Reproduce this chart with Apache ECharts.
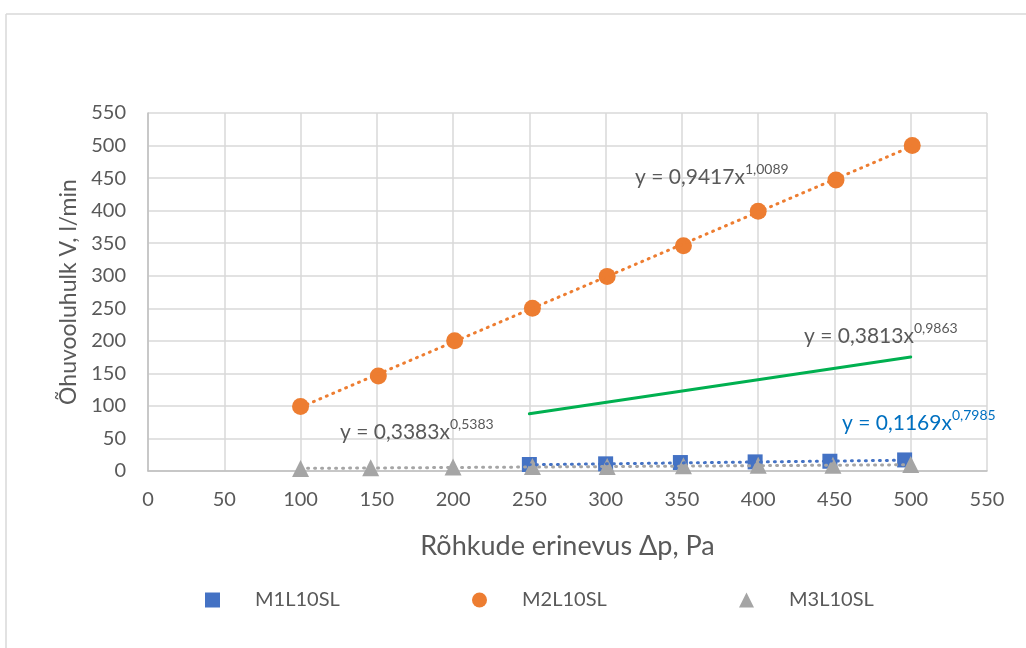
<!DOCTYPE html>
<html>
<head>
<meta charset="utf-8">
<script src="https://cdn.jsdelivr.net/npm/echarts@6/dist/echarts.min.js"></script>
<style>
  html, body { margin: 0; padding: 0; background: #ffffff; }
  #chart { width: 1026px; height: 648px; }
</style>
</head>
<body>
<div id="chart"></div>
<script>
// Measured air flow (l/min) against pressure difference (Pa)
const seriesNames = ['M1L10SL', 'M2L10SL', 'M3L10SL'];

const m1Points = [[250, 10], [300, 11], [349, 13], [398, 14], [447, 15], [496, 17]];
const m2Points = [[100, 99], [151, 146], [201, 200], [252, 250], [301, 299], [351, 346], [400, 399], [451, 447], [501, 500]];
const m3Points = [[100, 4], [146, 5], [200, 6], [252, 7], [301, 7], [351, 8], [400, 9], [449, 9], [500, 10]];

// Power-law trend lines (end points of each fitted curve)
const m1Trend = [[250, 9.6], [496, 16.6]];
const m2Trend = [[100, 98], [501, 499]];
const m3Trend = [[100, 4.0], [500, 9.6]];
const extraTrend = [[250, 88], [500, 175]];

// Trend equations: coefficient and exponent
const m1Eq = ['0,1169', '0,7985'];
const m2Eq = ['0,9417', '1,0089'];
const m3Eq = ['0,3383', '0,5383'];
const extraEq = ['0,3813', '0,9863'];

const axisTicks = { min: 0, max: 550, interval: 50 };

const colors = { m1: '#4472c4', m2: '#ed7d31', m3: '#a5a5a5', extra: '#00b050', eqBlue: '#0070c0' };
const FONT = 'Lato, "Open Sans", sans-serif';
const textGrey = '#595959';

const chart = echarts.init(document.getElementById('chart'), null, { renderer: 'canvas' });

function eqText(eq) {
  return '{a|y = ' + eq[0] + 'x}{s|' + eq[1] + '}';
}
function eqRich(color) {
  return {
    a: { fontFamily: FONT, fontSize: 21, fill: color, color: color, lineHeight: 30 },
    s: { fontFamily: FONT, fontSize: 14, fill: color, color: color, lineHeight: 16, verticalAlign: 'top' }
  };
}
function eqGraphic(eq, color, x, y) {
  return {
    type: 'text', left: x, top: y, z: 20,
    style: { text: eqText(eq), rich: eqRich(color), fill: color, font: '21px ' + FONT }
  };
}

function trendSeries(name, data, color, type) {
  return {
    name: name, type: 'line', data: data, showSymbol: false, symbol: 'none',
    silent: true, z: 5,
    lineStyle: { color: color, width: 3, type: type, cap: 'round' }
  };
}

function legendAt(name, left) {
  return {
    data: [name], left: left, top: 585, itemWidth: 15, itemHeight: 15,
    textStyle: { color: textGrey, fontSize: 20, fontFamily: FONT, padding: [0, 0, 0, 30] }
  };
}

const option = {
  backgroundColor: '#ffffff',
  animation: false,
  textStyle: { fontFamily: FONT },
  grid: { left: 148, right: 39, top: 113, bottom: 177, containLabel: false },
  xAxis: {
    type: 'value', min: axisTicks.min, max: axisTicks.max, interval: axisTicks.interval,
    name: 'Rõhkude erinevus Δp, Pa', nameLocation: 'middle', nameGap: 62,
    nameTextStyle: { color: textGrey, fontSize: 27, fontFamily: FONT },
    axisLine: { show: true, lineStyle: { color: '#bfbfbf', width: 1.5 } },
    axisTick: { show: false },
    axisLabel: { color: textGrey, fontSize: 20, fontFamily: FONT, margin: 19 },
    splitLine: { show: true, lineStyle: { color: '#d9d9d9', width: 1.5 } }
  },
  yAxis: {
    type: 'value', min: axisTicks.min, max: axisTicks.max, interval: axisTicks.interval,
    name: 'Õhuvooluhulk V, l/min', nameLocation: 'middle', nameGap: 66, nameRotate: 90,
    nameTextStyle: { color: textGrey, fontSize: 23, fontFamily: FONT },
    axisLine: { show: true, lineStyle: { color: '#bfbfbf', width: 1.5 } },
    axisTick: { show: false },
    axisLabel: { color: textGrey, fontSize: 20, fontFamily: FONT, margin: 22 },
    splitLine: { show: true, lineStyle: { color: '#d9d9d9', width: 1.5 } }
  },
  legend: [
    legendAt(seriesNames[0], 200),
    legendAt(seriesNames[1], 467),
    legendAt(seriesNames[2], 734)
  ],
  graphic: [
    { type: 'line', shape: { x1: 6, y1: 14, x2: 1026, y2: 14 }, style: { stroke: '#d9d9d9', lineWidth: 1.5 } },
    { type: 'line', shape: { x1: 6, y1: 14, x2: 6, y2: 648 }, style: { stroke: '#d9d9d9', lineWidth: 1.5 } },
    eqGraphic(m2Eq, textGrey, 635, 162),
    eqGraphic(extraEq, textGrey, 804, 321),
    eqGraphic(m3Eq, textGrey, 340, 417),
    eqGraphic(m1Eq, colors.eqBlue, 842, 408)
  ],
  series: [
    trendSeries('extra trend', extraTrend, colors.extra, 'solid'),
    { name: 'M1L10SL', type: 'scatter', data: m1Points, symbol: 'rect', symbolSize: 15,
      itemStyle: { color: colors.m1, opacity: 1 }, z: 3 },
    { name: 'M2L10SL', type: 'scatter', data: m2Points, symbol: 'circle', symbolSize: 17,
      itemStyle: { color: colors.m2, opacity: 1 }, z: 3 },
    { name: 'M3L10SL', type: 'scatter', data: m3Points, symbol: 'triangle', symbolSize: 17,
      itemStyle: { color: colors.m3, opacity: 1 }, z: 3 },
    trendSeries('M1 trend', m1Trend, colors.m1, [1, 6]),
    trendSeries('M2 trend', m2Trend, colors.m2, [1, 6]),
    trendSeries('M3 trend', m3Trend, colors.m3, [1, 6])
  ]
};

chart.setOption(option);
</script>
</body>
</html>
